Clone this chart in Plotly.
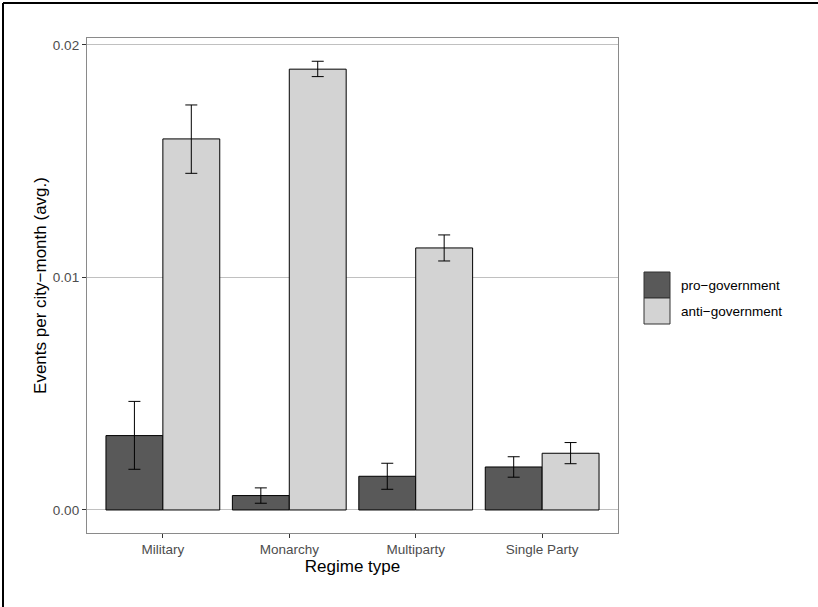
import plotly.graph_objects as go

categories = ["Military", "Monarchy", "Multiparty", "Single Party"]
series_names = ["pro\u2212government", "anti\u2212government"]
pro_values = [0.00320, 0.00062, 0.00145, 0.00185]
pro_err_hi = [0.00467, 0.00095, 0.00201, 0.00229]
pro_err_lo = [0.00175, 0.00029, 0.00089, 0.00141]
anti_values = [0.01596, 0.01896, 0.01127, 0.00244]
anti_err_hi = [0.01742, 0.01930, 0.01183, 0.00290]
anti_err_lo = [0.01448, 0.01864, 0.01071, 0.00199]
y_tick_vals = [0.0, 0.01, 0.02]
y_tick_text = ["0.00", "0.01", "0.02"]

colors = ["#595959", "#D3D3D3"]
FONT = "Liberation Sans, Arial, Helvetica, sans-serif"
TICK_SIZE = 13.5
TITLE_SIZE = 17

W, H = 818, 607
ML, MR, MT, MB = 87, 200, 38, 74
PW, PH = W - ML - MR, H - MT - MB

fig = go.Figure()
for name, vals, hi, lo, col in [
    (series_names[0], pro_values, pro_err_hi, pro_err_lo, colors[0]),
    (series_names[1], anti_values, anti_err_hi, anti_err_lo, colors[1]),
]:
    fig.add_trace(go.Bar(
        x=categories, y=vals, name=name,
        marker=dict(color=col, line=dict(color="black", width=1)),
        error_y=dict(type="data", symmetric=False,
                     array=[h - v for h, v in zip(hi, vals)],
                     arrayminus=[v - l for l, v in zip(lo, vals)],
                     color="black", thickness=1, width=6),
        showlegend=False,
    ))

fig.update_layout(
    width=W, height=H,
    margin=dict(l=ML, r=MR, t=MT, b=MB),
    paper_bgcolor="white", plot_bgcolor="white",
    barmode="group", bargap=0.1, bargroupgap=0,
    font=dict(family=FONT, size=12, color="#4d4d4d"),
)
fig.update_xaxes(
    range=[-0.6, 3.6], showgrid=False, zeroline=False,
    showline=True, mirror=True, linecolor="#8a8a8a", linewidth=1.3,
    ticks="outside", ticklen=4, tickcolor="#333333", tickwidth=1,
    tickfont=dict(size=TICK_SIZE, color="#4d4d4d"),
    title=dict(text="Regime type", font=dict(size=TITLE_SIZE, color="black"), standoff=3),
)
fig.update_yaxes(
    range=[-0.00099, 0.0203], tickvals=y_tick_vals, ticktext=y_tick_text,
    showgrid=True, gridcolor="#c0c0c0", gridwidth=1.4, zeroline=False,
    showline=True, mirror=True, linecolor="#8a8a8a", linewidth=1.3,
    ticks="outside", ticklen=4, tickcolor="#333333", tickwidth=1,
    tickfont=dict(size=TICK_SIZE, color="#4d4d4d"),
    title=dict(text="Events per city\u2212month (avg.)", font=dict(size=TITLE_SIZE, color="black"), standoff=1),
)

# manual legend (large keys as in the reference)
def px_x(p):
    return (p - ML) / PW

def px_y(p):
    return (H - MB - p) / PH

for i, (name, col) in enumerate(zip(series_names, colors)):
    top = 272 + 26 * i
    fig.add_shape(type="rect", xref="paper", yref="paper",
                  x0=px_x(644), x1=px_x(670), y0=px_y(top + 26), y1=px_y(top),
                  fillcolor=col, line=dict(color="#333333", width=1))
    fig.add_annotation(xref="paper", yref="paper", x=px_x(679), y=px_y(top + 13),
                       text=name, showarrow=False, xanchor="left", yanchor="middle",
                       font=dict(size=TICK_SIZE, color="black", family=FONT))

# outer frame lines (top and left) around the image
fig.add_shape(type="line", xref="paper", yref="paper",
              x0=px_x(3), x1=px_x(830), y0=px_y(3), y1=px_y(3),
              line=dict(color="black", width=2))
fig.add_shape(type="line", xref="paper", yref="paper",
              x0=px_x(3), x1=px_x(3), y0=px_y(3), y1=px_y(620),
              line=dict(color="black", width=2))

fig.write_html("out.html", config={"displayModeBar": False},
               post_script="document.body.style.margin='0';")
